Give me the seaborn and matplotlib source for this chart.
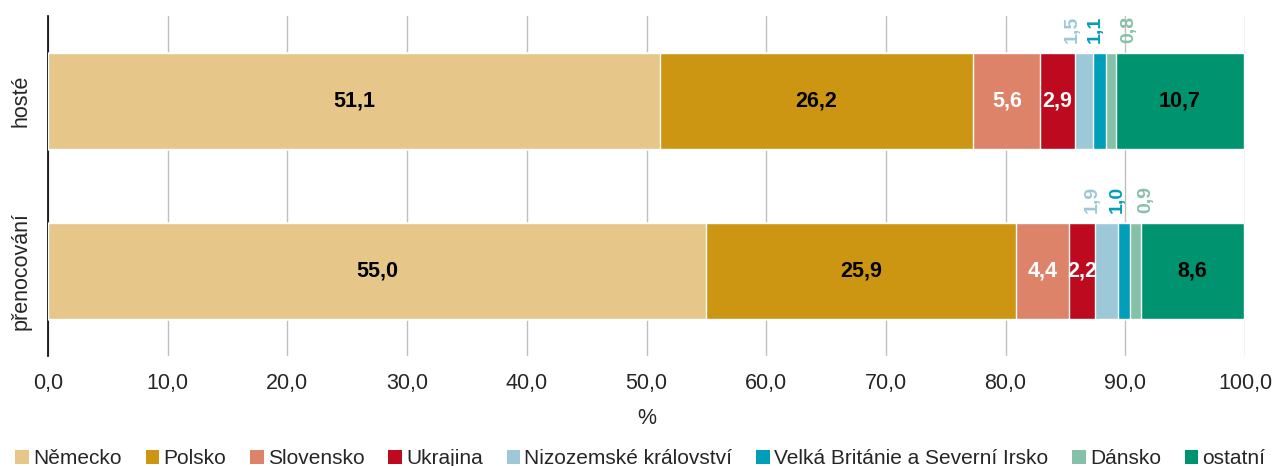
import numpy as np
import pandas as pd
import matplotlib
matplotlib.use("Agg")
import matplotlib.pyplot as plt
import seaborn as sns
from matplotlib.patches import Patch

# Data
rows = ["hosté", "přenocování"]
countries = ["Německo", "Polsko", "Slovensko", "Ukrajina", "Nizozemské království",
             "Velká Británie a Severní Irsko", "Dánsko", "ostatní"]
hoste = [51.1, 26.2, 5.6, 2.9, 1.5, 1.1, 0.8, 10.7]
prenocovani = [55.0, 25.9, 4.4, 2.2, 1.9, 1.0, 0.9, 8.6]
colors = ["#E6C689", "#CC9612", "#DD836A", "#BE0A1E", "#9DC8D8", "#009EB8", "#85C1A7", "#009370"]

sns.set_style("white")
plt.rcParams['font.family'] = ['Liberation Sans', 'DejaVu Sans']

df = pd.DataFrame({"hosté": hoste, "přenocování": prenocovani}, index=countries)
cum = df.cumsum()

fig = plt.figure(figsize=(12.81, 4.66), dpi=100)
ax = fig.add_axes([48 / 1281, 1 - 356 / 466, (1245 - 48) / 1281, 340 / 466])

# stacked bars: draw cumulative totals from the last segment back to the first
for i in range(len(countries) - 1, -1, -1):
    d = pd.DataFrame({"row": rows, "val": cum.iloc[i].values})
    sns.barplot(data=d, x="val", y="row", orient="h", color=colors[i],
                width=0.565, saturation=1, ax=ax, zorder=3)

# labels; small segments get rotated labels above the bar, nudged apart
white_lbl = {"Slovensko", "Ukrajina"}
black_lbl = {"Německo", "Polsko", "ostatní"}
nudge = {"hosté": [-1.0, -0.4, 1.5], "přenocování": [-1.2, -0.6, 0.9]}
for r, row in enumerate(rows):
    start = 0
    k = 0
    for i, c in enumerate(countries):
        v = df.loc[c, row]
        mid = start + v / 2
        txt = f"{v:.1f}".replace(".", ",")
        if c in black_lbl or c in white_lbl:
            ax.text(mid, r, txt, ha="center", va="center", fontsize=15.5, fontweight="bold",
                    color="white" if c in white_lbl else "black", zorder=5)
        else:
            ax.text(mid + nudge[row][k], r - 0.565 / 2 - 0.06, txt, ha="center", va="bottom",
                    rotation=90, fontsize=14, fontweight="bold", color=colors[i], zorder=5)
            k += 1
        start += v

ax.set_xlim(0, 100)
ax.set_ylim(1.5, -0.5)
ax.set_xticks(np.arange(0, 101, 10))
ax.set_xticklabels([f"{t:.1f}".replace(".", ",") for t in np.arange(0, 101, 10)], fontsize=15.5)
ax.tick_params(axis="x", length=0, pad=12)
ax.set_yticks([0, 1])
ax.set_yticklabels(rows, rotation=90, va="center", fontsize=15.5)
ax.set_yticks([-0.5, 0.5, 1.5], minor=True)
ax.tick_params(axis="y", which="major", length=0, pad=12)
ax.tick_params(axis="y", which="minor", length=5, width=1, color="black", direction="out")
ax.set_ylabel("")
ax.set_xlabel("%", fontsize=15.5, labelpad=10)
ax.grid(axis="x", color="#BFBFBF", linewidth=1, zorder=0)
ax.set_axisbelow(True)
for s in ["top", "right", "bottom"]:
    ax.spines[s].set_visible(False)
ax.spines["left"].set_color("black")
ax.spines["left"].set_linewidth(1.2)

handles = [Patch(facecolor=col, edgecolor="none", label=c) for c, col in zip(countries, colors)]
fig.legend(handles=handles, loc="lower center", bbox_to_anchor=(0.5, -0.045), ncol=8, frameon=False,
           fontsize=15, handlelength=0.65, handleheight=0.65, handletextpad=0.2, columnspacing=1.15)

fig.savefig("out.png", dpi=100)
